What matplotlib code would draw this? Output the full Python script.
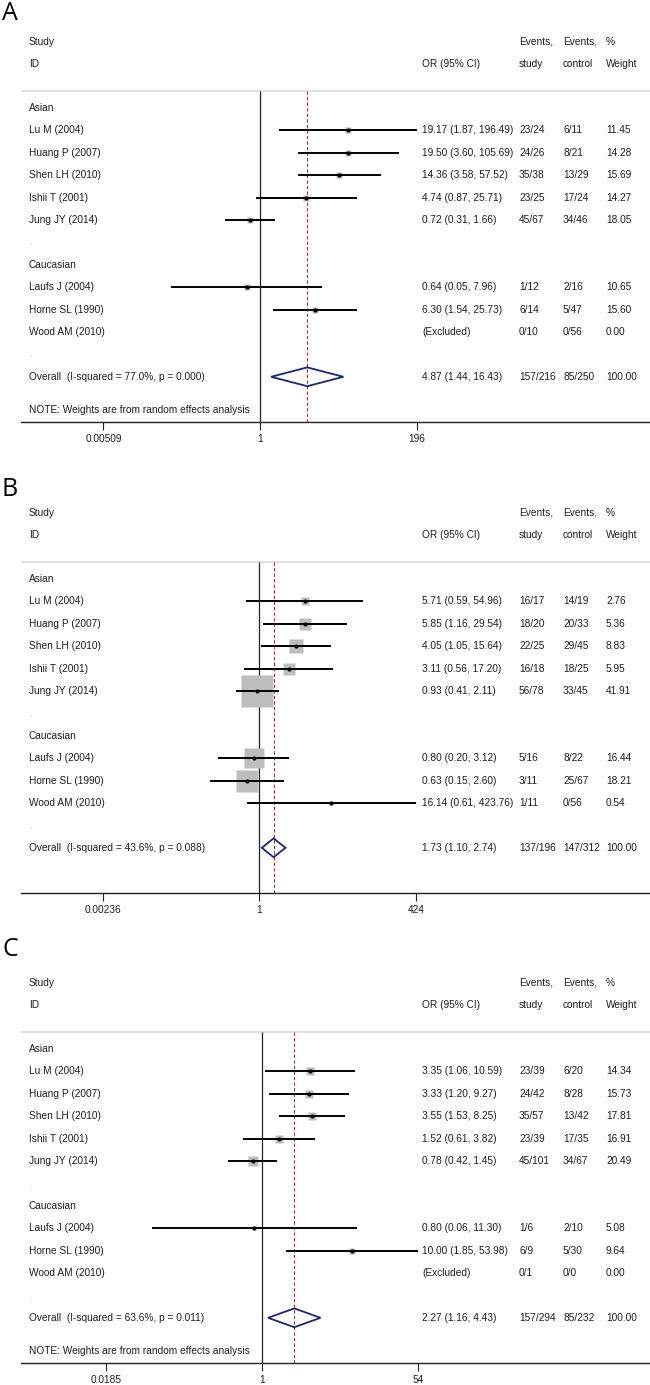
import matplotlib

matplotlib.use("Agg")
import matplotlib.pyplot as plt
import matplotlib.transforms as mtransforms
from matplotlib.patches import Polygon
import numpy as np

plt.rcParams["font.family"] = ["Liberation Sans", "DejaVu Sans"]

W, H, DPI = 650, 1385, 100

studies = [
    "Lu M (2004)", "Huang P (2007)", "Shen LH (2010)", "Ishii T (2001)", "Jung JY (2014)",
    "Laufs J (2004)", "Horne SL (1990)", "Wood AM (2010)",
]
groups = ["Asian", "Caucasian"]
group_sizes = [5, 3]

# panel A
or_a = [19.17, 19.50, 14.36, 4.74, 0.72, 0.64, 6.30, None]
lo_a = [1.87, 3.60, 3.58, 0.87, 0.31, 0.05, 1.54, None]
hi_a = [196.49, 105.69, 57.52, 25.71, 1.66, 7.96, 25.73, None]
ev_study_a = ["23/24", "24/26", "35/38", "23/25", "45/67", "1/12", "6/14", "0/10"]
ev_ctrl_a = ["6/11", "8/21", "13/29", "17/24", "34/46", "2/16", "5/47", "0/56"]
wt_a = [11.45, 14.28, 15.69, 14.27, 18.05, 10.65, 15.60, 0.00]
overall_a = [4.87, 1.44, 16.43]
het_a = [77.0, 0.000]
tot_a = ["157/216", "85/250"]
ticks_a = [0.00509, 1, 196]
ticklabels_a = ["0.00509", "1", "196"]

# panel B
or_b = [5.71, 5.85, 4.05, 3.11, 0.93, 0.80, 0.63, 16.14]
lo_b = [0.59, 1.16, 1.05, 0.56, 0.41, 0.20, 0.15, 0.61]
hi_b = [54.96, 29.54, 15.64, 17.20, 2.11, 3.12, 2.60, 423.76]
ev_study_b = ["16/17", "18/20", "22/25", "16/18", "56/78", "5/16", "3/11", "1/11"]
ev_ctrl_b = ["14/19", "20/33", "29/45", "18/25", "33/45", "8/22", "25/67", "0/56"]
wt_b = [2.76, 5.36, 8.83, 5.95, 41.91, 16.44, 18.21, 0.54]
overall_b = [1.73, 1.10, 2.74]
het_b = [43.6, 0.088]
tot_b = ["137/196", "147/312"]
ticks_b = [0.00236, 1, 424]
ticklabels_b = ["0.00236", "1", "424"]

# panel C
or_c = [3.35, 3.33, 3.55, 1.52, 0.78, 0.80, 10.00, None]
lo_c = [1.06, 1.20, 1.53, 0.61, 0.42, 0.06, 1.85, None]
hi_c = [10.59, 9.27, 8.25, 3.82, 1.45, 11.30, 53.98, None]
ev_study_c = ["23/39", "24/42", "35/57", "23/39", "45/101", "1/6", "6/9", "0/1"]
ev_ctrl_c = ["6/20", "8/28", "13/42", "17/35", "34/67", "2/10", "5/30", "0/0"]
wt_c = [14.34, 15.73, 17.81, 16.91, 20.49, 5.08, 9.64, 0.00]
overall_c = [2.27, 1.16, 4.43]
het_c = [63.6, 0.011]
tot_c = ["157/294", "85/232"]
ticks_c = [0.0185, 1, 54]
ticklabels_c = ["0.0185", "1", "54"]

NOTE = "NOTE: Weights are from random effects analysis"

# layout (pixels)
ROW = 22.4
AX_LEFT = 21
COL_OR, COL_EVS, COL_EVC, COL_WT = 422, 519, 563, 606
FS = 7.3
TXT = "#1e1e1e"
BOX = "#bdbdbd"
NAVY = "#1c2670"
RED = "#b5282b"


def draw_panel(fig, letter, label_y, asian_y, tick_px, box_k, note,
               ors, los, his, ev_s, ev_c, wts, overall, het, tot, ticks, ticklabels):
    y_top, y_bot = -3.6, 14.0
    bottom_px = asian_y + y_bot * ROW
    ax = fig.add_axes([AX_LEFT / W, 1 - bottom_px / H, (W - AX_LEFT) / W, (y_bot - y_top) * ROW / H])
    ax.set_ylim(y_bot, y_top)

    # log axis placed so that 1/max and max land on the reference tick positions
    lnM = np.log(ticks[-1])
    s = 2 * lnM / (tick_px[1] - tick_px[0])
    ax.set_xscale("log")
    ax.set_xlim(np.exp(-lnM - (tick_px[0] - AX_LEFT) * s), np.exp(lnM + (W - tick_px[1]) * s))

    tr = mtransforms.blended_transform_factory(fig.transFigure, ax.transData)

    def col(x, y, t, **kw):
        kw.setdefault("color", TXT)
        ax.text(x / W, y, t, transform=tr, ha="left", va="center", fontsize=FS, **kw)

    # headers
    col(29, -2.95, "Study")
    col(29, -1.96, "ID")
    col(COL_OR, -1.96, "OR (95% CI)")
    col(COL_EVS, -2.95, "Events,")
    col(COL_EVS, -1.96, "study")
    col(COL_EVC, -2.95, "Events,")
    col(COL_EVC, -1.96, "control")
    col(COL_WT, -2.95, "%")
    col(COL_WT, -1.96, "Weight")

    sep = -0.74
    ax.axhline(sep, color="#d6d6d6", lw=1.1)
    ax.vlines(1, sep, y_bot, color="#222222", lw=0.9)
    ax.vlines(overall[0], sep, y_bot, color=RED, lw=0.8, linestyles=(0, (3, 2)))

    row = 0
    k = 0
    for g, n in zip(groups, group_sizes):
        col(29, row, g)
        row += 1
        for _ in range(n):
            col(29, row, studies[k])
            if ors[k] is None:
                col(COL_OR, row, "(Excluded)")
            else:
                side = box_k * np.sqrt(wts[k]) * 72 / DPI
                ax.plot(ors[k], row, marker="s", ms=side, color=BOX, mec="none", zorder=2)
                ax.hlines(row, los[k], his[k], color="black", lw=1.4, zorder=3)
                ax.plot(ors[k], row, marker="o", ms=3.0, color="black", mec="none", zorder=4)
                col(COL_OR, row, f"{ors[k]:.2f} ({los[k]:.2f}, {his[k]:.2f})")
            col(COL_EVS, row, ev_s[k])
            col(COL_EVC, row, ev_c[k])
            col(COL_WT, row, f"{wts[k]:.2f}")
            row += 1
            k += 1
        col(29, row, ".", color="#c8c8c8")
        row += 1

    # overall
    est, lo, hi = overall
    dh = 0.42
    ax.add_patch(Polygon([(lo, row), (est, row - dh), (hi, row), (est, row + dh)],
                         closed=True, fill=False, edgecolor=NAVY, lw=1.3, zorder=4))
    col(29, row, f"Overall  (I-squared = {het[0]:.1f}%, p = {het[1]:.3f})")
    col(COL_OR, row, f"{est:.2f} ({lo:.2f}, {hi:.2f})")
    col(COL_EVS, row, tot[0])
    col(COL_EVC, row, tot[1])
    col(COL_WT, row, "100.00")
    if note:
        col(29, row + 1.5, NOTE)

    for sp in ["top", "left", "right"]:
        ax.spines[sp].set_visible(False)
    ax.spines["bottom"].set_color("#222222")
    ax.spines["bottom"].set_linewidth(1.0)
    ax.set_yticks([])
    ax.set_xticks(ticks)
    ax.set_xticklabels(ticklabels)
    ax.xaxis.set_minor_locator(matplotlib.ticker.NullLocator())
    ax.tick_params(axis="x", length=5.5, width=0.8, color="#222222", pad=3.2, labelsize=FS, labelcolor=TXT)
    ax.patch.set_alpha(0)

    fig.text(2 / W, 1 - label_y / H, letter, fontsize=18, family=["Open Sans", "DejaVu Sans"],
             ha="left", va="center", color="black")


fig = plt.figure(figsize=(W / DPI, H / DPI), dpi=DPI)
draw_panel(fig, "A", 14, 108, (103.5, 417.0), 1.55, True,
           or_a, lo_a, hi_a, ev_study_a, ev_ctrl_a, wt_a, overall_a, het_a, tot_a, ticks_a, ticklabels_a)
draw_panel(fig, "B", 489, 579, (102.5, 416.2), 5.02, False,
           or_b, lo_b, hi_b, ev_study_b, ev_ctrl_b, wt_b, overall_b, het_b, tot_b, ticks_b, ticklabels_b)
draw_panel(fig, "C", 950, 1049, (106.2, 418.3), 2.1, True,
           or_c, lo_c, hi_c, ev_study_c, ev_ctrl_c, wt_c, overall_c, het_c, tot_c, ticks_c, ticklabels_c)
fig.savefig("out.png", dpi=DPI)
